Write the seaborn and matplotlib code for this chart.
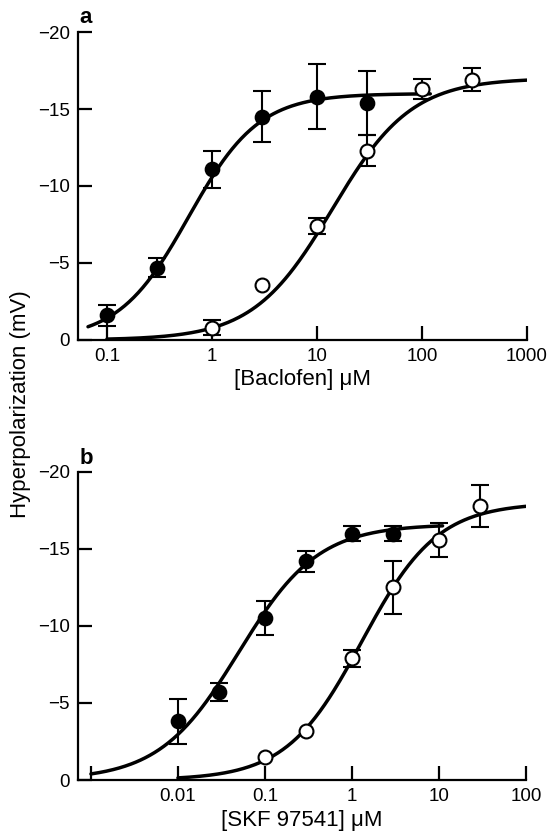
import numpy as np
import pandas as pd
import matplotlib
matplotlib.use("Agg")
import matplotlib.pyplot as plt
from matplotlib.ticker import FixedLocator, FixedFormatter, NullLocator
import seaborn as sns

# Panel a: baclofen alone (filled) and with antagonist (open)
bac_conc_filled = [0.1, 0.3, 1, 3, 10, 30]
bac_resp_filled = [-1.6, -4.7, -11.1, -14.5, -15.8, -15.4]
bac_err_filled = [0.7, 0.6, 1.2, 1.65, 2.1, 2.1]

bac_conc_open = [1, 3, 10, 30, 100, 300]
bac_resp_open = [-0.8, -3.6, -7.4, -12.3, -16.3, -16.9]
bac_err_open = [0.5, 0.0, 0.5, 1.0, 0.65, 0.75]

# Panel b: SKF 97541 alone (filled) and with antagonist (open)
skf_conc_filled = [0.01, 0.03, 0.1, 0.3, 1, 3]
skf_resp_filled = [-3.8, -5.7, -10.5, -14.2, -16.0, -16.0]
skf_err_filled = [1.45, 0.6, 1.1, 0.7, 0.5, 0.5]

skf_conc_open = [0.1, 0.3, 1, 3, 10, 30]
skf_resp_open = [-1.5, -3.2, -7.9, -12.5, -15.6, -17.8]
skf_err_open = [0.0, 0.0, 0.55, 1.75, 1.1, 1.35]

# fitted logistic curves: (emax, ec50, hill, x_start, x_end)
fit_bac_filled = (-16.0, 0.6, 1.3, 0.066, 120)
fit_bac_open = (-17.0, 14.0, 1.15, 0.1, 1000)
fit_skf_filled = (-16.6, 0.05, 0.95, 0.001, 11)
fit_skf_open = (-18.0, 1.3, 1.0, 0.01, 100)

xticks_a = [0.1, 1, 10, 100, 1000]
xticklabels_a = ["0.1", "1", "10", "100", "1000"]
xticks_b = [0.001, 0.01, 0.1, 1, 10, 100]
xticklabels_b = ["", "0.01", "0.1", "1", "10", "100"]
yticks = [0, -5, -10, -15, -20]
yticklabels = ["0", "\u22125", "\u221210", "\u221215", "\u221220"]

sns.set_style("ticks")
plt.rcParams["font.family"] = ["Liberation Sans", "DejaVu Sans"]
plt.rcParams["font.size"] = 13
plt.rcParams["text.color"] = "black"
plt.rcParams["axes.labelcolor"] = "black"


def hill_curve(params):
    emax, ec50, n, x0, x1 = params
    x = np.logspace(np.log10(x0), np.log10(x1), 300)
    y = emax * (x / ec50) ** n / (1 + (x / ec50) ** n)
    return pd.DataFrame({"x": x, "y": y})


def draw_errors(ax, conc, resp, err):
    keep = [i for i, e in enumerate(err) if e > 0]
    ax.errorbar([conc[i] for i in keep], [resp[i] for i in keep],
                yerr=[err[i] for i in keep], fmt="none", ecolor="black",
                elinewidth=1.5, capsize=6.5, capthick=1.5, zorder=3)


def draw_panel(ax, cf, rf, ef, co, ro, eo, fit_f, fit_o):
    for fit in (fit_f, fit_o):
        sns.lineplot(data=hill_curve(fit), x="x", y="y", ax=ax,
                     color="black", lw=2.5, estimator=None, sort=False)
    draw_errors(ax, cf, rf, ef)
    draw_errors(ax, co, ro, eo)
    sns.scatterplot(x=cf, y=rf, ax=ax, color="black", edgecolor="black",
                    s=100, linewidth=1.3, zorder=4)
    sns.scatterplot(x=co, y=ro, ax=ax, color="white", edgecolor="black",
                    s=100, linewidth=1.5, zorder=4)
    sns.despine(ax=ax)
    for sp in ("left", "bottom"):
        ax.spines[sp].set_linewidth(1.6)
        ax.spines[sp].set_color("black")
    ax.set_ylim(0, -20)
    ax.yaxis.set_major_locator(FixedLocator(yticks))
    ax.yaxis.set_major_formatter(FixedFormatter(yticklabels))
    ax.tick_params(direction="in", length=10, width=1.6, colors="black",
                   labelcolor="black", labelsize=13.5, pad=6)
    ax.xaxis.set_minor_locator(NullLocator())
    ax.set_ylabel("")


fig = plt.figure(figsize=(5.47, 8.38), dpi=100)
ax_a = fig.add_axes([0.1426, 0.5943, 0.8208, 0.3675])
ax_b = fig.add_axes([0.1426, 0.0692, 0.8190, 0.3676])

draw_panel(ax_a, bac_conc_filled, bac_resp_filled, bac_err_filled,
           bac_conc_open, bac_resp_open, bac_err_open,
           fit_bac_filled, fit_bac_open)
ax_a.set_xscale("log")
ax_a.set_xlim(0.053, 1000)
ax_a.xaxis.set_major_locator(FixedLocator(xticks_a))
ax_a.xaxis.set_major_formatter(FixedFormatter(xticklabels_a))
ax_a.xaxis.set_minor_locator(NullLocator())
ax_a.set_xlabel("[Baclofen] \u03bcM", fontsize=16, labelpad=3)

draw_panel(ax_b, skf_conc_filled, skf_resp_filled, skf_err_filled,
           skf_conc_open, skf_resp_open, skf_err_open,
           fit_skf_filled, fit_skf_open)
ax_b.set_xscale("log")
ax_b.set_xlim(0.00071, 100)
ax_b.xaxis.set_major_locator(FixedLocator(xticks_b))
ax_b.xaxis.set_major_formatter(FixedFormatter(xticklabels_b))
ax_b.xaxis.set_minor_locator(NullLocator())
ax_b.set_xlabel("[SKF 97541] \u03bcM", fontsize=16, labelpad=3)

fig.text(0.145, 0.979, "a", fontsize=16, fontweight="bold", ha="left", va="center")
fig.text(0.145, 0.453, "b", fontsize=16, fontweight="bold", ha="left", va="center")
fig.text(0.038, 0.518, "Hyperpolarization (mV)", rotation=90, fontsize=16,
         ha="center", va="center")

fig.savefig("out.png", dpi=100, facecolor="white")
